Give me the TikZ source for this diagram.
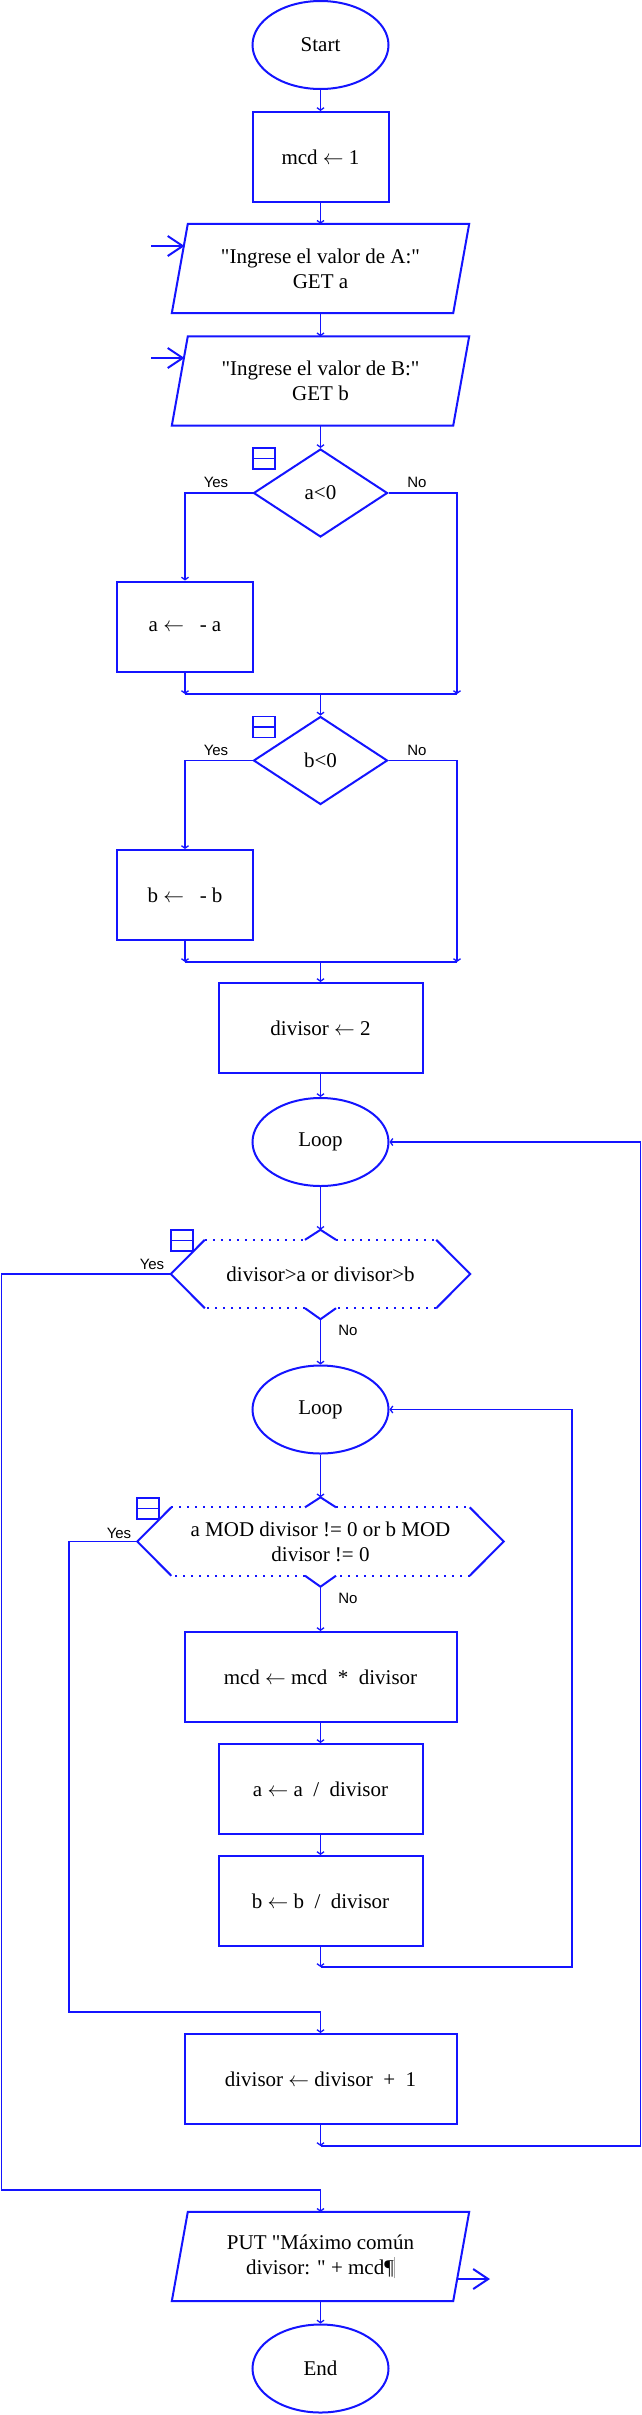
\documentclass[tikz,border=0pt]{standalone}
\usepackage{fontspec}
\setmainfont{Liberation Serif}
\newfontfamily\txtfont{Liberation Serif}
\newfontfamily\labfont{Liberation Sans}
\usetikzlibrary{shapes.geometric,arrows.meta,calc}
\definecolor{fc}{RGB}{20,20,255}
\newcommand\qq{\char34\relax}
\newcommand\lar{$\leftarrow$}
\newcommand\hexdraw[1]{%
 \draw[dots] ([xshift=34pt]#1.north west) -- ([xshift=-15.5pt]#1.north);
 \draw[outl] ([xshift=-15.5pt]#1.north) -- ([yshift=10pt]#1.north) -- ([xshift=15.5pt]#1.north);
 \draw[dots] ([xshift=15.5pt]#1.north) -- ([xshift=-34pt]#1.north east);
 \draw[outl] ([xshift=-34pt]#1.north east) -- (#1.east) -- ([xshift=-34pt]#1.south east);
 \draw[dots] ([xshift=-34pt]#1.south east) -- ([xshift=15.5pt]#1.south);
 \draw[outl] ([xshift=15.5pt]#1.south) -- ([yshift=-11pt]#1.south) -- ([xshift=-15.5pt]#1.south);
 \draw[dots] ([xshift=-15.5pt]#1.south) -- ([xshift=34pt]#1.south west);
 \draw[outl] ([xshift=34pt]#1.south west) -- (#1.west) -- ([xshift=34pt]#1.north west);
}
\begin{document}
\begin{tikzpicture}[x=1pt,y=-1pt,
  every node/.style={font=\txtfont\fontsize{21}{25}\selectfont, align=center, inner sep=0pt},
  term/.style={ellipse, draw=fc, line width=2pt, minimum width=136pt, minimum height=88pt},
  proc/.style={rectangle, draw=fc, line width=2pt, minimum height=90pt},
  io/.style={rectangle, minimum width=281pt, minimum height=89pt},
  dec/.style={diamond, draw=fc, line width=2pt, minimum width=134pt, minimum height=88pt},
  hexn/.style={rectangle, minimum height=68pt},
  conn/.style={draw=fc, line width=1.3pt, -{Straight Barb[length=2.5pt,width=7pt]}},
  wire/.style={draw=fc, line width=1.3pt},
  bigarrow/.style={draw=fc, line width=2pt, -{Straight Barb[length=15pt,width=20pt]}},
  lab/.style={font=\labfont\fontsize{15}{18}\selectfont, anchor=base},
  icon/.style={draw=fc, line width=1.8pt, minimum width=22pt, minimum height=21pt,
     path picture={\draw[fc,line width=1.8pt] (path picture bounding box.west) -- (path picture bounding box.east);}},
  outl/.style={draw=fc, line width=2pt},
  dots/.style={draw=fc, line width=2pt, dash pattern=on 2pt off 6pt},
]
\useasboundingbox[fill=white] (0,0) rectangle (642,2415);

% nodes
\node[term] (start) at (320.5,45) {Start};
\node[proc, minimum width=136pt] (n1) at (320.5,157) {mcd \lar{} 1};
\node[io] (inA) at (320.5,268.5) {\qq Ingrese el valor de A:\qq\\GET a};
\node[io] (inB) at (320.5,381) {\qq Ingrese el valor de B:\qq\\GET b};
\node[dec] (d1) at (320.5,493) {a<0};
\node[proc, minimum width=136pt] (na) at (185,626.5) {a \lar\enspace\ - a};
\node[dec] (d2) at (320.5,760.5) {b<0};
\node[proc, minimum width=136pt] (nb) at (185,895) {b \lar\enspace\ - b};
\node[proc, minimum width=204pt] (n2) at (320.5,1028) {divisor \lar{} 2};
\node[term] (loop1) at (320.5,1142) {Loop};
\node[hexn, minimum width=299pt] (h1) at (320.5,1274) {divisor>a or divisor>b};
\node[term] (loop2) at (320.5,1409.5) {Loop};
\node[hexn, minimum width=366pt] (h2) at (320.5,1541.5) {a MOD divisor != 0 or b MOD\\divisor != 0};
\node[proc, minimum width=272pt] (n3) at (320.5,1677) {mcd \lar{} mcd \ * \ divisor};
\node[proc, minimum width=204pt] (n4) at (320.5,1789) {a \lar{} a \ / \ divisor};
\node[proc, minimum width=204pt] (n5) at (320.5,1901) {b \lar{} b \ / \ divisor};
\node[proc, minimum width=272pt] (n6) at (320.5,2079) {divisor \lar{} divisor \ + \ 1};
\node[io] (out) at (320.5,2256.5) {PUT \qq Máximo común\\divisor: \qq{} + mcd¶{\color{gray!70}\rule[-4pt]{1.2pt}{21pt}}};
\node[term] (end) at (320.5,2368.5) {End};

% outlines of io and hexagon shapes
\foreach \n in {inA,inB,out}
  \draw[outl] ([xshift=8pt]\n.north west) -- ([xshift=8pt]\n.north east) -- ([xshift=-8pt]\n.south east) -- ([xshift=-8pt]\n.south west) -- cycle;
\hexdraw{h1}
\hexdraw{h2}

% icons
\node[icon] (ic1) at (263.75,458.5) {};
\node[icon] (ic2) at (263.75,727) {};
\node[icon] (ic3) at (182,1240.5) {};
\node[icon] (ic4) at (148,1508.5) {};

% coordinates
\coordinate (h1top) at ([yshift=10pt]h1.north);
\coordinate (h1bot) at ([yshift=-11pt]h1.south);
\coordinate (h2top) at ([yshift=10pt]h2.north);
\coordinate (h2bot) at ([yshift=-11pt]h2.south);
\coordinate (m1l) at (185,694);
\coordinate (m1c) at (320.5,694);
\coordinate (m1r) at (457,694);
\coordinate (m2l) at (185,962);
\coordinate (m2c) at (320.5,962);
\coordinate (m2r) at (457,962);
\coordinate (imc) at (320.5,1967);
\coordinate (imr) at (572,1967);
\coordinate (omc) at (320.5,2146);
\coordinate (omr) at (640.5,2146);
\coordinate (y2c) at (69,2012);
\coordinate (y1c) at (1.5,2190);
\coordinate (inAsrc) at (151,246);
\coordinate (inAin) at (184.5,246);
\coordinate (inBsrc) at (151,358);
\coordinate (inBin) at (184.5,358);
\coordinate (outsrc) at (457,2279);
\coordinate (outdst) at (490,2279);

% connectors
\draw[conn] (start) -- (n1);
\draw[conn] (n1) -- (inA);
\draw[conn] (inA) -- (inB);
\draw[conn] (inB) -- (d1);
\draw[conn] (d1.west) -| (na.north);
\draw[conn] (na.south) -- (m1l);
\draw[conn] (d1.east) -| (m1r);
\draw[wire] (m1l) -- (m1r);
\draw[conn] (m1c) -- (d2.north);
\draw[conn] (d2.west) -| (nb.north);
\draw[conn] (nb.south) -- (m2l);
\draw[conn] (d2.east) -| (m2r);
\draw[wire] (m2l) -- (m2r);
\draw[conn] (m2c) -- (n2.north);
\draw[conn] (n2) -- (loop1);
\draw[conn] (loop1) -- (h1top);
\draw[conn] (h1bot) -- (loop2);
\draw[conn] (loop2) -- (h2top);
\draw[conn] (h2bot) -- (n3);
\draw[conn] (n3) -- (n4);
\draw[conn] (n4) -- (n5);
\draw[conn] (n5.south) -- (imc);
\draw[conn] (imc) -- (imr) |- (loop2.east);
\draw[conn] (h2.west) -| (y2c) -| (n6.north);
\draw[conn] (n6.south) -- (omc);
\draw[conn] (omc) -- (omr) |- (loop1.east);
\draw[conn] (h1.west) -| (y1c) -| (out.north);
\draw[conn] (out) -- (end);
\draw[bigarrow] (inAsrc) -- (inAin);
\draw[bigarrow] (inBsrc) -- (inBin);
\draw[bigarrow] (outsrc) -- (outdst);

% labels
\node[lab] (y1) at (216,487) {Yes};
\node[lab] (no1) at (417,487) {No};
\node[lab] (y2) at (216,755) {Yes};
\node[lab] (no2) at (417,755) {No};
\node[lab] (y3) at (152,1269) {Yes};
\node[lab] (no3) at (348,1335) {No};
\node[lab] (y4) at (119,1538) {Yes};
\node[lab] (no4) at (348,1603) {No};
\end{tikzpicture}
\end{document}
